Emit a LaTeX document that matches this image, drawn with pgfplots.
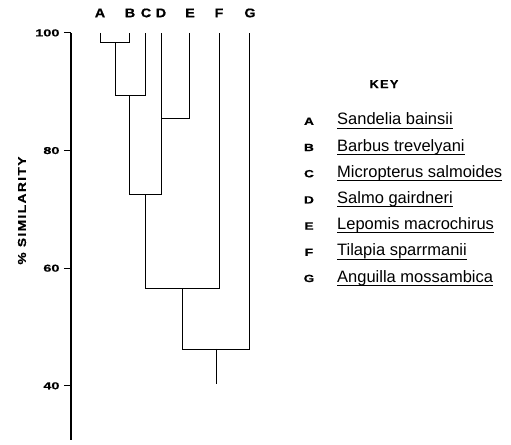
\documentclass[border=0pt]{standalone}
\usepackage{pgfplots}
\pgfplotsset{compat=1.18}
\usepackage{fontspec}
\setmainfont{Liberation Sans}
\newfontfamily\extb[FakeStretch=1.45,FakeBold=0.6,UprightFont={* Bold}]{Liberation Sans}
\newfontfamily\labb[FakeStretch=1.15,FakeBold=0.6,UprightFont={* Bold}]{Liberation Sans}
\newfontfamily\ylabb[FakeStretch=1.2,LetterSpace=12,FakeBold=0.5,UprightFont={* Bold}]{Liberation Sans}
\newfontfamily\keyb[FakeStretch=1.1,LetterSpace=12,FakeBold=0.5,UprightFont={* Bold}]{Liberation Sans}
\newfontfamily\kletb[FakeStretch=1.3,FakeBold=0.5,UprightFont={* Bold}]{Liberation Sans}
\newcommand\ul[1]{\setbox0\hbox{#1}\rlap{\rule[-3.5pt]{\wd0}{0.8pt}}\box0}
\tikzset{leaf/.style={font=\labb\fontsize{12.5}{12.5}\selectfont, inner sep=0pt},
  klet/.style={font=\kletb\fontsize{10.5}{10.5}\selectfont, inner sep=0pt, anchor=base},
  kname/.style={font=\fontsize{16.5}{16.5}\selectfont, inner sep=0pt, anchor=base west}}
\begin{document}
\begin{tikzpicture}
\begin{axis}[
  scale only axis, width=440pt, height=407pt,
  xmin=71, xmax=511, ymin=30.8, ymax=100,
  clip=false,
  axis x line=none,
  axis y line=left,
  y axis line style={-, line width=1.1pt},
  ytick={40,60,80,100},
  tick align=outside,
  major tick length=7pt,
  tick style={line width=0.9pt, black},
  yticklabel style={font=\extb\fontsize{10}{10}\selectfont, xshift=-1pt},
  /pgf/number format/assume math mode=true,
  cycle list={{black, solid, line width=1pt, mark=none}},
]
% invisible frame fixing the page size
\path (axis cs:0,105.6) rectangle (axis cs:511,30.0);
% dendrogram
\addplot coordinates {(100,100) (100,98.4) (129,98.4) (129,100)};
\addplot coordinates {(115,98.4) (115,89.4) (145,89.4) (145,100)};
\addplot coordinates {(189,100) (189,85.5) (161,85.5)};
\addplot coordinates {(129,89.4) (129,72.6) (161,72.6) (161,100)};
\addplot coordinates {(145,72.6) (145,56.6) (219,56.6) (219,100)};
\addplot coordinates {(182,56.6) (182,46.3) (249.5,46.3) (249.5,100)};
\addplot coordinates {(216.5,46.3) (216.5,40.3)};
% leaf labels
\node[leaf] at (axis cs:100,103.4) {A};
\node[leaf] at (axis cs:130,103.4) {B};
\node[leaf] at (axis cs:146,103.4) {C};
\node[leaf] at (axis cs:161,103.4) {D};
\node[leaf] at (axis cs:190,103.4) {E};
\node[leaf] at (axis cs:219,103.4) {F};
\node[leaf] at (axis cs:250,103.4) {G};
% y label
\node[font=\ylabb\fontsize{11.5}{11.5}\selectfont, rotate=90, inner sep=0pt] at (axis cs:22,69.8) {\% SIMILARITY};
% key  (baselines at pixel rows 125, 151.2, ... ; value = 100-(y-33)/5.883)
\node[font=\keyb\fontsize{11.5}{11.5}\selectfont, inner sep=0pt] at (axis cs:384,91.3) {KEY};
\node[klet] at (axis cs:309,84.36) {A};
\node[kname] at (axis cs:337,84.36) {\ul{Sandelia bainsii}};
\node[klet] at (axis cs:309,79.91) {B};
\node[kname] at (axis cs:337,79.91) {\ul{Barbus trevelyani}};
\node[klet] at (axis cs:309,75.45) {C};
\node[kname] at (axis cs:337,75.45) {\ul{Micropterus salmoides}};
\node[klet] at (axis cs:309,71.00) {D};
\node[kname] at (axis cs:337,71.00) {\ul{Salmo gairdneri}};
\node[klet] at (axis cs:309,66.55) {E};
\node[kname] at (axis cs:337,66.55) {\ul{Lepomis macrochirus}};
\node[klet] at (axis cs:309,62.09) {F};
\node[kname] at (axis cs:337,62.09) {\ul{Tilapia sparrmanii}};
\node[klet] at (axis cs:309,57.64) {G};
\node[kname] at (axis cs:337,57.64) {\ul{Anguilla mossambica}};
\end{axis}
\end{tikzpicture}
\end{document}
